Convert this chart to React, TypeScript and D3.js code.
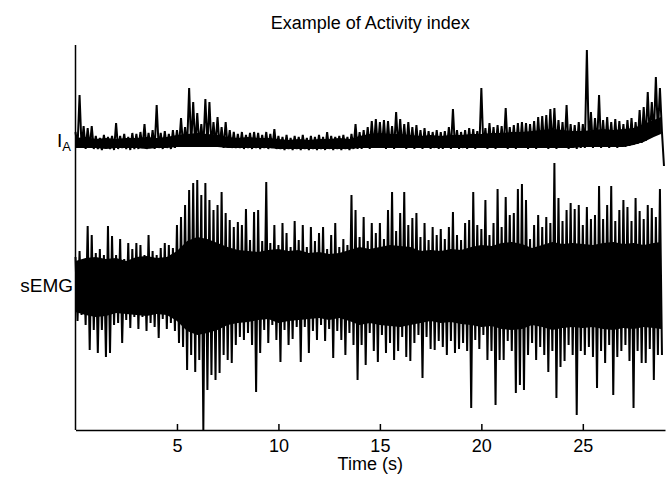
import React, { useRef, useEffect } from "react";
import * as d3 from "d3";

const title = "Example of Activity index";
const xLabel = "Time (s)";
const xTicks = [5, 10, 15, 20, 25];
const timeMax = 29.05;
const sampleStep = 0.1; // seconds between the read-off extremes
const coreStep = 0.5; // seconds between the read-off edges of the solid band

// activity index: alternating band top / band bottom, one value every 0.1 s (last = final drop)
const activityIndex = [
  20, 5, 57, 4, 26, 3, 24, 4, 26, 3,
  16, 3, 14, 2, 17, 4, 15, 3, 16, 2,
  29, 3, 16, 4, 18, 3, 15, 2, 19, 3,
  18, 3, 20, 4, 28, 3, 19, 4, 22, 3,
  47, 4, 19, 3, 21, 4, 18, 3, 22, 4,
  22, 5, 34, 6, 25, 5, 64, 6, 50, 5,
  39, 6, 28, 5, 53, 6, 50, 5, 30, 6,
  35, 5, 25, 4, 30, 5, 22, 4, 20, 4,
  18, 4, 20, 3, 17, 4, 19, 3, 20, 4,
  19, 3, 17, 4, 20, 3, 18, 4, 23, 3,
  16, 3, 15, 2, 17, 3, 14, 2, 16, 3,
  15, 2, 17, 3, 14, 2, 16, 3, 15, 2,
  17, 3, 15, 2, 20, 3, 16, 2, 15, 3,
  16, 2, 17, 3, 15, 2, 18, 3, 28, 3,
  20, 3, 22, 4, 25, 3, 31, 4, 33, 4,
  30, 4, 32, 3, 31, 4, 26, 3, 40, 4,
  33, 4, 28, 3, 30, 4, 25, 3, 27, 4,
  22, 3, 24, 4, 21, 3, 20, 4, 22, 3,
  20, 3, 21, 4, 25, 3, 43, 4, 22, 3,
  20, 4, 22, 3, 24, 4, 23, 3, 21, 4,
  64, 4, 24, 3, 29, 4, 25, 3, 27, 4,
  26, 4, 44, 3, 25, 4, 27, 3, 29, 4,
  30, 4, 29, 3, 28, 4, 31, 3, 35, 4,
  36, 4, 37, 3, 43, 4, 44, 3, 32, 4,
  30, 4, 47, 3, 28, 4, 27, 3, 30, 4,
  28, 4, 102, 5, 40, 4, 34, 5, 57, 4,
  32, 5, 35, 4, 30, 5, 33, 4, 31, 5,
  28, 5, 32, 6, 34, 7, 30, 8, 42, 9,
  45, 11, 60, 14, 50, 16, 75, 18, 64, 20,
  -14,
];

// solid part of the activity-index band, every 0.5 s
const iaCoreTop = [
  14, 15, 13, 14, 13, 14, 14, 15, 14, 15,
  17, 18, 19, 18, 17, 15, 14, 15, 14, 14,
  13, 12, 13, 12, 13, 13, 14, 13, 16, 18,
  19, 18, 18, 17, 16, 17, 16, 17, 17, 18,
  18, 19, 19, 20, 20, 21, 22, 23, 22, 21,
  21, 22, 23, 22, 23, 24, 28, 32, 35,
];
const iaCoreBottom = [
  4, 4, 4, 3, 4, 4, 4, 3, 4, 4,
  5, 5, 5, 5, 5, 4, 4, 4, 4, 4,
  3, 3, 3, 3, 3, 3, 3, 3, 4, 4,
  4, 4, 4, 4, 4, 4, 4, 4, 4, 4,
  4, 4, 4, 4, 4, 4, 4, 4, 4, 4,
  5, 5, 5, 5, 5, 7, 10, 15, 18,
];

// sEMG: alternating positive / negative extremes, one value every 0.1 s
const semg = [
  28, -36, 34, -30, 24, -40, 59, -65, 50, -45,
  32, -68, 36, -45, 30, -72, 59, -68, 49, -40,
  30, -38, 46, -58, 26, -35, 42, -43, 36, -32,
  42, -44, 40, -32, 30, -46, 50, -38, 34, -42,
  30, -53, 37, -34, 42, -44, 40, -38, 37, -46,
  60, -58, 68, -62, 80, -85, 95, -70, 102, -87,
  105, -75, 90, -145, 102, -105, 85, -90, 75, -95,
  80, -88, 93, -70, 72, -75, 65, -78, 58, -60,
  63, -52, 60, -55, 76, -48, 45, -60, 73, -107,
  75, -68, 44, -45, 103, -58, 42, -40, 60, -55,
  40, -77, 62, -45, 52, -60, 38, -54, 64, -42,
  45, -77, 60, -42, 38, -68, 58, -46, 44, -55,
  52, -40, 58, -56, 36, -44, 50, -73, 62, -46,
  38, -55, 46, -70, 40, -48, 90, -60, 75, -95,
  48, -60, 68, -80, 44, -48, 62, -66, 52, -77,
  62, -50, 46, -68, 75, -58, 93, -75, 54, -66,
  72, -52, 93, -72, 60, -76, 67, -58, 72, -50,
  48, -93, 62, -52, 45, -64, 58, -65, 50, -56,
  56, -62, 46, -70, 58, -56, 73, -68, 50, -64,
  45, -58, 62, -66, 65, -123, 93, -55, 60, -64,
  56, -50, 85, -75, 50, -66, 62, -120, 96, -75,
  58, -75, 88, -56, 70, -66, 72, -108, 96, -100,
  101, -105, 85, -70, 46, -58, 60, -75, 70, -62,
  58, -70, 68, -87, 62, -66, 122, -113, 87, -82,
  64, -76, 75, -60, 82, -70, 76, -130, 80, -66,
  60, -70, 78, -62, 66, -72, 70, -103, 99, -66,
  66, -78, 80, -60, 99, -110, 64, -72, 75, -66,
  85, -60, 78, -76, 64, -123, 87, -66, 74, -78,
  66, -78, 80, -64, 77, -95, 68, -70, 96, -70,
];

// solid part of the sEMG band, every 0.5 s
const semgCoreTop = [
  24, 27, 28, 26, 27, 24, 28, 29, 27, 28,
  34, 44, 48, 46, 42, 38, 35, 34, 33, 35,
  36, 34, 35, 32, 33, 31, 32, 35, 38, 36,
  38, 40, 39, 38, 34, 35, 34, 36, 35, 38,
  40, 39, 42, 43, 41, 37, 40, 43, 41, 42,
  41, 40, 42, 43, 41, 42, 40, 42, 43,
];
const semgCoreBottom = [
  -27, -30, -32, -31, -28, -29, -30, -31, -29, -30,
  -36, -46, -50, -48, -45, -40, -38, -37, -35, -34,
  -38, -36, -35, -34, -33, -35, -33, -36, -40, -38,
  -40, -41, -42, -40, -38, -36, -38, -37, -39, -40,
  -42, -41, -44, -45, -44, -40, -42, -45, -43, -42,
  -43, -42, -44, -45, -43, -44, -42, -43, -44,
];

const FONT = "'Liberation Sans', Arial, Helvetica, sans-serif";

function App() {
  const svgRef = useRef<SVGSVGElement>(null);

  useEffect(() => {
    const svg = d3.select(svgRef.current);
    svg.selectAll("*").remove();

    const width = 667;
    const height = 486;
    const margin = { top: 45, right: 2, bottom: 56, left: 75.5 };
    const axisY = height - margin.bottom;

    const x = d3
      .scaleLinear()
      .domain([0, timeMax])
      .range([margin.left, width - margin.right]);
    const yIa = d3.scaleLinear().domain([0, 100]).range([152, 52]);
    const yEmg = d3.scaleLinear().domain([-150, 150]).range([435, 135]);

    svg.attr("width", width).attr("height", height);

    const trace = (scale: d3.ScaleLinear<number, number>) =>
      d3
        .line<number>()
        .x((_, i) => x(i * sampleStep))
        .y((d) => scale(d));

    const band = (
      scale: d3.ScaleLinear<number, number>,
      top: number[],
      bottom: number[]
    ) =>
      d3
        .area<number>()
        .x((_, i) => x(Math.min(i * coreStep, timeMax - 0.2)))
        .y0((_, i) => scale(bottom[i]))
        .y1((d) => scale(d))(top);

    svg
      .append("path")
      .attr("d", band(yEmg, semgCoreTop, semgCoreBottom))
      .attr("fill", "#000");

    svg
      .append("path")
      .datum(semg)
      .attr("d", trace(yEmg))
      .attr("fill", "none")
      .attr("stroke", "#000")
      .attr("stroke-width", 2);

    svg
      .append("path")
      .attr("d", band(yIa, iaCoreTop, iaCoreBottom))
      .attr("fill", "#000");

    svg
      .append("path")
      .datum(activityIndex)
      .attr("d", trace(yIa))
      .attr("fill", "none")
      .attr("stroke", "#000")
      .attr("stroke-width", 2);

    // axes
    const xAxis = d3
      .axisBottom(x)
      .tickValues(xTicks)
      .tickSize(-6)
      .tickSizeOuter(0)
      .tickPadding(9)
      .tickFormat(d3.format("d"));

    const gx = svg
      .append("g")
      .attr("transform", `translate(0,${axisY})`)
      .call(xAxis);
    gx.select(".domain").attr("stroke", "#000").attr("stroke-width", 1.5);
    gx.selectAll(".tick line").attr("stroke", "#000").attr("stroke-width", 1.5);
    gx.selectAll(".tick text")
      .attr("font-family", FONT)
      .attr("font-size", 18)
      .attr("fill", "#000");

    svg
      .append("line")
      .attr("x1", margin.left)
      .attr("x2", margin.left)
      .attr("y1", margin.top)
      .attr("y2", axisY)
      .attr("stroke", "#000")
      .attr("stroke-width", 1.5);

    svg
      .append("text")
      .attr("x", (margin.left + width - margin.right) / 2)
      .attr("y", axisY + 40)
      .attr("text-anchor", "middle")
      .attr("font-family", FONT)
      .attr("font-size", 18)
      .text(xLabel);

    svg
      .append("text")
      .attr("x", (margin.left + width - margin.right) / 2)
      .attr("y", 29)
      .attr("text-anchor", "middle")
      .attr("font-family", FONT)
      .attr("font-size", 18)
      .text(title);

    const ia = svg
      .append("text")
      .attr("x", 71)
      .attr("y", 147)
      .attr("text-anchor", "end")
      .attr("font-family", FONT)
      .attr("font-size", 19);
    ia.append("tspan").text("I");
    ia.append("tspan").attr("font-size", 13).attr("dy", 4).text("A");

    svg
      .append("text")
      .attr("x", 73)
      .attr("y", yEmg(0) + 7)
      .attr("text-anchor", "end")
      .attr("font-family", FONT)
      .attr("font-size", 19)
      .text("sEMG");
  }, []);

  return (
    <svg
      ref={svgRef}
      style={{ position: "absolute", left: 0, top: 0, display: "block", background: "#fff" }}
    ></svg>
  );
}

export default App;
